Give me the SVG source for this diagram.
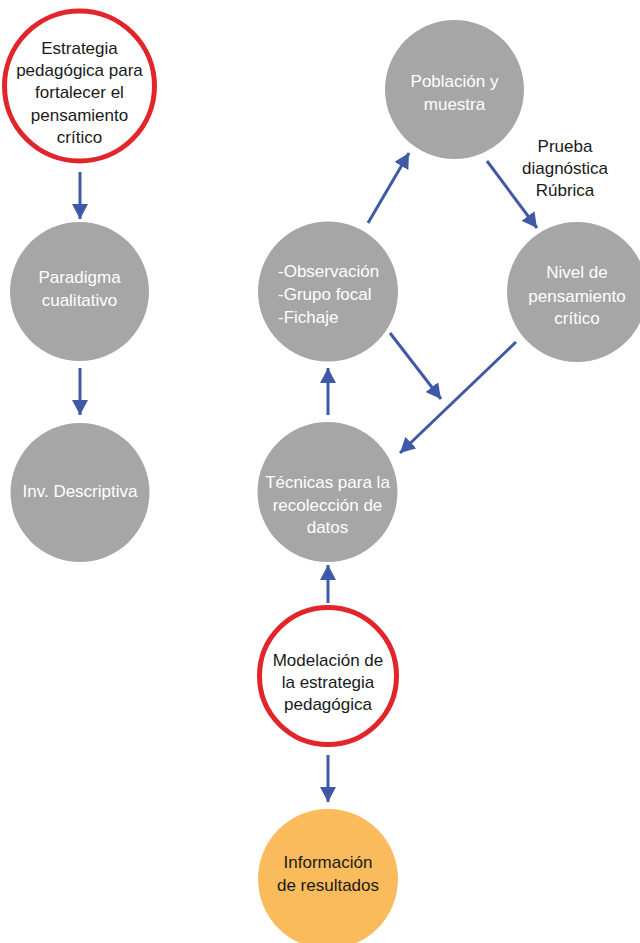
<svg xmlns="http://www.w3.org/2000/svg" width="640" height="943" viewBox="0 0 640 943">
<style>
text{font-family:"Liberation Sans",Arial,sans-serif;font-size:17px}
.c{text-anchor:middle}
.w{fill:#ffffff}
.k{fill:#1a1a1a}
.gray{fill:#a6a6a6}
.red{fill:#ffffff;stroke:#e2252b;stroke-width:5}
.org{fill:#f9bb5c}
.arr{stroke:#4058a8;stroke-width:3;fill:none;marker-end:url(#ah)}
</style>
<defs>
<marker id="ah" viewBox="0 0 15 16" refX="15" refY="8" markerWidth="15" markerHeight="16" orient="auto" markerUnits="userSpaceOnUse">
<path d="M0,0 L15,8 L0,16 z" fill="#4058a8"/>
</marker>
</defs>
<rect width="640" height="943" fill="#ffffff"/>
<g id="connectors">
<line class="arr" x1="80" y1="172" x2="80" y2="219"/>
<line class="arr" x1="80" y1="368" x2="80" y2="415"/>
<line class="arr" x1="368" y1="223" x2="409" y2="153"/>
<line class="arr" x1="487" y1="161" x2="537" y2="228"/>
<line class="arr" x1="390" y1="333" x2="441" y2="399"/>
<line class="arr" x1="516" y1="342" x2="400" y2="453"/>
<line class="arr" x1="328" y1="415" x2="328" y2="368"/>
<line class="arr" x1="328" y1="603" x2="328" y2="565"/>
<line class="arr" x1="328" y1="755" x2="328" y2="802"/>
</g>
<g id="estrategia">
<circle class="red" cx="79.5" cy="86" r="75"/>
<text class="c k" x="79.5" y="54">Estrategia</text>
<text class="c k" x="79.5" y="76">pedagógica para</text>
<text class="c k" x="79.5" y="98">fortalecer el</text>
<text class="c k" x="79.5" y="121">pensamiento</text>
<text class="c k" x="79.5" y="143">crítico</text>
</g>
<g id="paradigma">
<circle class="gray" cx="79.5" cy="291.5" r="69.5"/>
<text class="c w" x="79.5" y="283">Paradigma</text>
<text class="c w" x="79.5" y="306">cualitativo</text>
</g>
<g id="inv">
<circle class="gray" cx="80" cy="492.5" r="69.5"/>
<text class="c w" x="80" y="497">Inv. Descriptiva</text>
</g>
<g id="poblacion">
<circle class="gray" cx="454.5" cy="89.5" r="69.5"/>
<text class="c w" x="454.5" y="87">Población y</text>
<text class="c w" x="454.5" y="110">muestra</text>
</g>
<g id="prueba">
<text class="c k" x="565" y="152">Prueba</text>
<text class="c k" x="565" y="174">diagnóstica</text>
<text class="c k" x="565" y="196">Rúbrica</text>
</g>
<g id="nivel">
<circle class="gray" cx="577" cy="292" r="70"/>
<text class="c w" x="577" y="278">Nivel de</text>
<text class="c w" x="577" y="302">pensamiento</text>
<text class="c w" x="577" y="324">crítico</text>
</g>
<g id="observacion">
<circle class="gray" cx="328" cy="291.5" r="70"/>
<text class="w" x="278" y="277">-Observación</text>
<text class="w" x="278" y="300">-Grupo focal</text>
<text class="w" x="278" y="323">-Fichaje</text>
</g>
<g id="tecnicas">
<circle class="gray" cx="327.5" cy="492" r="70"/>
<text class="c w" x="327.5" y="488">Técnicas para la</text>
<text class="c w" x="327.5" y="511">recolección de</text>
<text class="c w" x="327.5" y="533">datos</text>
</g>
<g id="modelacion">
<circle class="red" cx="328" cy="676" r="68.5"/>
<text class="c k" x="328" y="666">Modelación de</text>
<text class="c k" x="328" y="688">la estrategia</text>
<text class="c k" x="328" y="710">pedagógica</text>
</g>
<g id="informacion">
<circle class="org" cx="328" cy="879" r="70"/>
<text class="c k" x="328" y="868">Información</text>
<text class="c k" x="328" y="891">de resultados</text>
</g>
</svg>
